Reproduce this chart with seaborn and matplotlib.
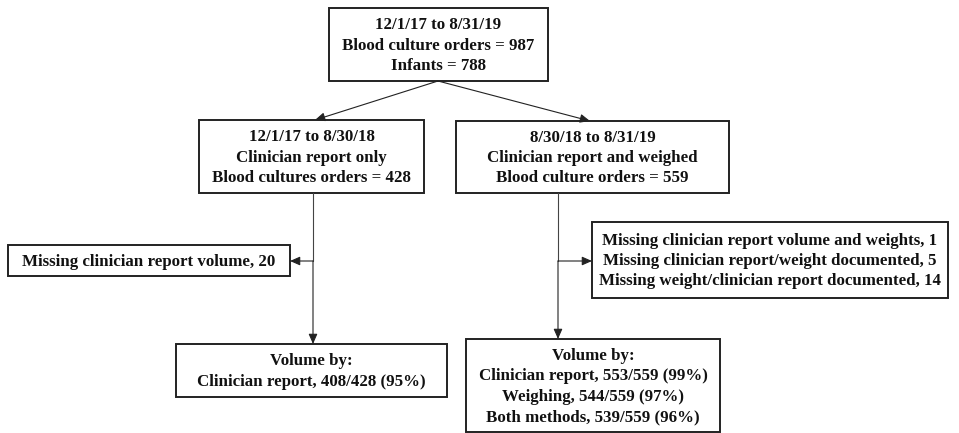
import matplotlib
matplotlib.use("Agg")
import matplotlib.pyplot as plt
import seaborn as sns

# box texts
top_text = ["12/1/17 to 8/31/19", "Blood culture orders = 987", "Infants = 788"]
left_text = ["12/1/17 to 8/30/18", "Clinician report only", "Blood cultures orders = 428"]
right_text = ["8/30/18 to 8/31/19", "Clinician report and weighed", "Blood culture orders = 559"]
left_missing = ["Missing clinician report volume, 20"]
right_missing = [
    "Missing clinician report volume and weights, 1",
    "Missing clinician report/weight documented, 5",
    "Missing weight/clinician report documented, 14",
]
left_result = ["Volume by:", "Clinician report, 408/428 (95%)"]
right_result = [
    "Volume by:",
    "Clinician report, 553/559 (99%)",
    "Weighing, 544/559 (97%)",
    "Both methods, 539/559 (96%)",
]

sns.set_style("white")
plt.rcParams["font.family"] = ["Liberation Serif", "DejaVu Serif"]

fig = plt.figure(figsize=(9.59, 4.33), dpi=100)
ax = fig.add_axes([0, 0, 1, 1])
ax.set_xlim(0, 959)
ax.set_ylim(433, 0)
ax.axis("off")


def box(x0, y0, x1, y1, lines):
    ax.add_patch(plt.Rectangle((x0, y0), x1 - x0, y1 - y0, fill=False,
                               edgecolor="#222222", lw=1.4))
    ax.text((x0 + x1) / 2, (y0 + y1) / 2 + 1, "\n".join(lines), ha="center",
            va="center", fontsize=12.2, fontweight="bold", linespacing=1.36,
            color="#111111")


def arrow(x0, y0, x1, y1):
    ax.annotate("", xy=(x1, y1), xytext=(x0, y0),
                arrowprops=dict(arrowstyle="-|>,head_length=0.5,head_width=0.22",
                                lw=0.8, color="#222222",
                                mutation_scale=12, shrinkA=0, shrinkB=0))


def line(x0, y0, x1, y1):
    ax.plot([x0, x1], [y0, y1], color="#444444", lw=0.8)


box(329, 8, 548, 81, top_text)
box(199, 120, 424, 193, left_text)
box(456, 121, 729, 193, right_text)
box(8, 245, 290, 276, left_missing)
box(592, 222, 948, 298, right_missing)
box(176, 344, 447, 397, left_result)
box(466, 339, 720, 432, right_result)

arrow(438, 81, 315, 120)
arrow(438, 81, 590, 121)

line(313, 193, 313, 261)
arrow(313, 261, 290, 261)
arrow(313, 261, 313, 344)

line(558, 193, 558, 261)
arrow(558, 261, 592, 261)
arrow(558, 261, 558, 339)

fig.savefig("out.png", dpi=100, facecolor="white")
